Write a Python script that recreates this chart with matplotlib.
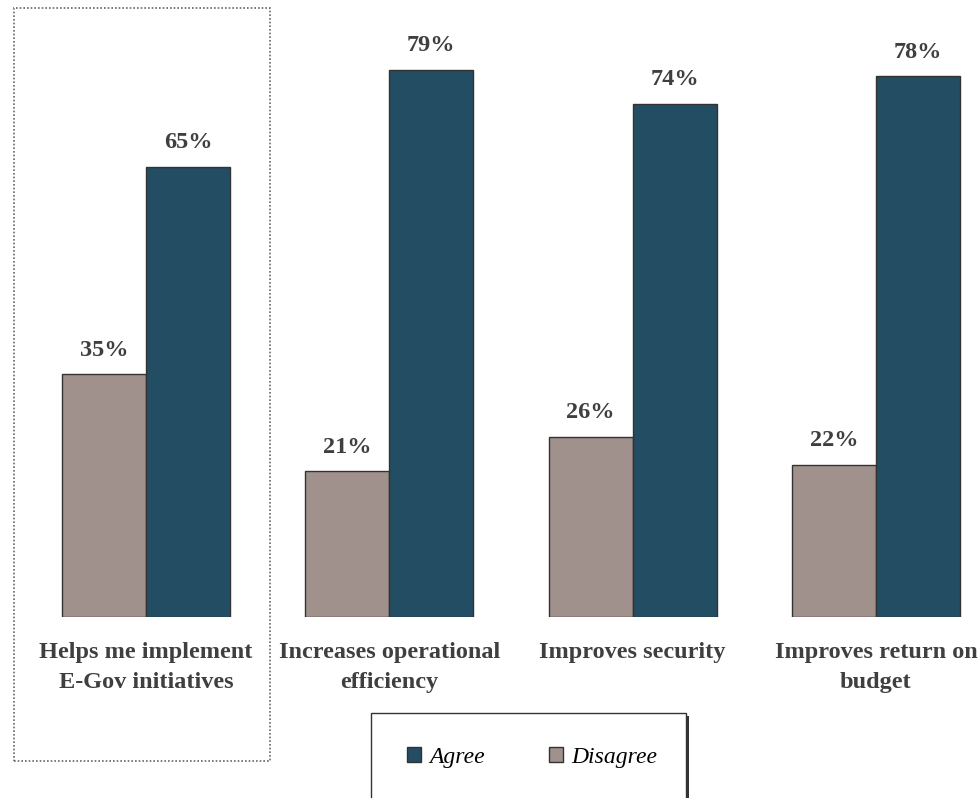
import matplotlib
matplotlib.use("Agg")
import matplotlib.pyplot as plt
from matplotlib.patches import Rectangle, Patch
import numpy as np

categories = ["Helps me implement\nE-Gov initiatives",
              "Increases operational\nefficiency",
              "Improves security",
              "Improves return on\nbudget"]
disagree = [35, 21, 26, 22]
agree = [65, 79, 74, 78]

AGREE_C = "#224D63"
DISAGREE_C = "#A0918C"
EDGE_C = "#333333"
TEXT_C = "#3f3f3f"
FONT = ["Liberation Serif", "DejaVu Serif"]

W, H = 979, 798
fig = plt.figure(figsize=(W / 100, H / 100), dpi=100)

def fx(px):
    return px / W

def fy(py):
    return 1 - py / H

# axes: baseline at y=617px, 0..85 range
base_px = 617
ppu = 6.93
ymax = 85
top_px = base_px - ymax * ppu
ax = fig.add_axes([0, fy(base_px), 1, (base_px - top_px) / H])
spacing = 243.3
c0 = 146
ax.set_xlim(-c0 / spacing, (W - c0) / spacing)
ax.set_ylim(0, ymax)
ax.axis("off")

x = np.arange(len(categories))
bw = 84 / spacing
ax.bar(x - bw / 2, disagree, width=bw, color=DISAGREE_C, edgecolor=EDGE_C, linewidth=1.0)
ax.bar(x + bw / 2, agree, width=bw, color=AGREE_C, edgecolor=EDGE_C, linewidth=1.0)

for xi, d, a in zip(x, disagree, agree):
    ax.text(xi - bw / 2, d + 2.0, f"{d}%", ha="center", va="bottom",
            fontsize=17.5, fontweight="bold", color=TEXT_C, family=FONT)
    ax.text(xi + bw / 2, a + 2.0, f"{a}%", ha="center", va="bottom",
            fontsize=17.5, fontweight="bold", color=TEXT_C, family=FONT)

for xi, cat in zip(x, categories):
    ax.text(xi, -3.6, cat, ha="center", va="top", fontsize=17.5,
            fontweight="bold", color=TEXT_C, family=FONT, linespacing=1.55,
            clip_on=False)

# dotted highlight frame around first group
fig.patches.append(Rectangle((fx(14), fy(761)), fx(270 - 14), (761 - 8) / H,
                             transform=fig.transFigure, fill=False,
                             edgecolor="#666666", linewidth=1.2,
                             linestyle=(0, (1, 1.2))))

# legend frame with shadow
fig.patches.append(Rectangle((fx(374), fy(800)), fx(689 - 374), (800 - 716) / H,
                             transform=fig.transFigure, facecolor="#333333",
                             edgecolor="none"))
fig.patches.append(Rectangle((fx(371), fy(800)), fx(686 - 371), (800 - 713) / H,
                             transform=fig.transFigure, facecolor="white",
                             edgecolor="#333333", linewidth=1.0))

handles = [Patch(facecolor=AGREE_C, edgecolor=EDGE_C, label="Agree"),
           Patch(facecolor=DISAGREE_C, edgecolor=EDGE_C, label="Disagree")]
fig.legend(handles=handles, loc="center", bbox_to_anchor=(fx(532), fy(757)),
           ncol=2, frameon=False, handlelength=0.6, handleheight=0.6,
           handletextpad=0.35, columnspacing=2.7,
           prop={"family": FONT, "style": "italic", "size": 17})

fig.savefig("out.png", dpi=100)
